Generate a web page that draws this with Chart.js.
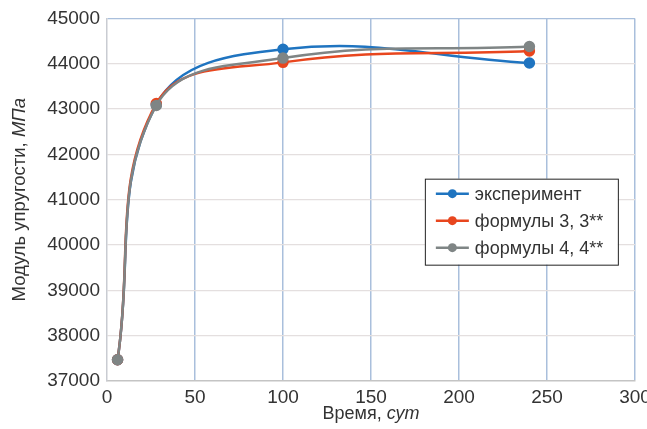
<!DOCTYPE html>
<html lang="ru">
<head>
  <meta charset="UTF-8">
  <title>Модуль упругости</title>
  <script src="https://cdn.jsdelivr.net/npm/chart.js"></script>
  <style>
    body {
      margin: 0;
      background: #fff;
    }

    .wrap {
      width: 647px;
      height: 429px;
    }
  </style>
</head>
<body>

  <div class="wrap">
    <canvas id="moduleChart" width="647" height="429"></canvas>
  </div>

  <script>
    // time, days
    const days = [6, 28, 100, 240];
    // elastic modulus, MPa
    const experiment = [37470, 43100, 44320, 44015];
    const formulas3 = [37470, 43120, 44030, 44280];
    const formulas4 = [37470, 43080, 44125, 44380];

    const seriesNames = ["эксперимент", "формулы 3, 3**", "формулы 4, 4**"];
    const seriesColors = ["#1f74c0", "#e8461e", "#7f8585"];

    const xTitle = ["Время, ", "сут"];
    const yTitle = ["Модуль упругости, ", "МПа"];

    const FONT = "'Liberation Sans', Arial, sans-serif";
    const TEXT = "#333333";
    const BLUE_GRID = "#a9bfdc";

    function toPoints(values) {
      return days.map((d, i) => ({ x: d, y: values[i] }));
    }

    function makeSet(i, values, order) {
      return {
        label: seriesNames[i],
        data: toPoints(values),
        borderColor: seriesColors[i],
        backgroundColor: seriesColors[i],
        borderWidth: 2.5,
        pointRadius: 4.5,
        pointHoverRadius: 4.5,
        tension: 0.4,
        order: order
      };
    }

    // draws a title where part of the text is italic
    function drawMixed(ctx, parts, size) {
      ctx.font = size + "px " + FONT;
      const w0 = ctx.measureText(parts[0]).width;
      ctx.font = "italic " + size + "px " + FONT;
      const w1 = ctx.measureText(parts[1]).width;
      let x = -(w0 + w1) / 2;
      ctx.textAlign = "left";
      ctx.textBaseline = "middle";
      ctx.fillStyle = TEXT;
      ctx.font = size + "px " + FONT;
      ctx.fillText(parts[0], x, 0);
      ctx.font = "italic " + size + "px " + FONT;
      ctx.fillText(parts[1], x + w0, 0);
    }

    const extras = {
      id: "extras",
      afterDraw(chart) {
        const ctx = chart.ctx;
        const area = chart.chartArea;

        // axis titles
        ctx.save();
        ctx.translate((area.left + area.right) / 2, 414);
        drawMixed(ctx, xTitle, 18);
        ctx.restore();

        ctx.save();
        ctx.translate(20, (area.top + area.bottom) / 2);
        ctx.rotate(-Math.PI / 2);
        drawMixed(ctx, yTitle, 18.5);
        ctx.restore();

        // legend box inside the plot
        const bx = area.left + (area.right - area.left) * 0.602;
        const by = area.top + (area.bottom - area.top) * 0.442;
        const bw = 193;
        const bh = 86;
        ctx.save();
        ctx.fillStyle = "#ffffff";
        ctx.fillRect(bx, by, bw, bh);
        ctx.strokeStyle = "#222222";
        ctx.lineWidth = 1;
        ctx.strokeRect(bx + 0.5, by + 0.5, bw, bh);

        ctx.font = "18px " + FONT;
        ctx.textBaseline = "middle";
        ctx.textAlign = "left";
        chart.data.datasets.forEach((ds, i) => {
          const y = by + 15 + i * 27;
          ctx.strokeStyle = ds.borderColor;
          ctx.lineWidth = 2.5;
          ctx.beginPath();
          ctx.moveTo(bx + 11, y);
          ctx.lineTo(bx + 44, y);
          ctx.stroke();
          ctx.fillStyle = ds.borderColor;
          ctx.beginPath();
          ctx.arc(bx + 27.5, y, 4.5, 0, Math.PI * 2);
          ctx.fill();
          ctx.fillStyle = TEXT;
          ctx.fillText(ds.label, bx + 50, y + 1);
        });
        ctx.restore();
      }
    };

    const ctx = document.getElementById("moduleChart").getContext("2d");

    new Chart(ctx, {
      type: "line",
      data: {
        datasets: [
          makeSet(0, experiment, 3),
          makeSet(1, formulas3, 2),
          makeSet(2, formulas4, 1)
        ]
      },
      options: {
        responsive: false,
        animation: false,
        layout: { padding: { left: 0, top: 17, right: 12, bottom: 0 } },
        plugins: {
          legend: { display: false },
          tooltip: { enabled: false }
        },
        scales: {
          x: {
            type: "linear",
            min: 0,
            max: 300,
            ticks: {
              stepSize: 50,
              padding: 5,
              color: TEXT,
              font: { family: FONT, size: 19 },
              callback: v => String(v)
            },
            grid: {
              drawTicks: false,
              lineWidth: 1.5,
              color: c => c.tick && c.tick.value === 0 ? "rgba(0,0,0,0)" : BLUE_GRID
            },
            border: { color: "#c4c4c4", width: 1.5 },
            afterFit: scale => {
              scale.height = 48;
              scale.paddingLeft = 0;
              scale.paddingRight = 0;
            }
          },
          y: {
            min: 37000,
            max: 45000,
            ticks: {
              stepSize: 1000,
              padding: 7,
              color: TEXT,
              font: { family: FONT, size: 19 },
              callback: v => String(v)
            },
            grid: {
              drawTicks: false,
              lineWidth: 1.2,
              color: c => {
                if (!c.tick) return "#e4dfdf";
                if (c.tick.value === 45000) return BLUE_GRID;
                if (c.tick.value === 37000) return "rgba(0,0,0,0)";
                return "#e4dfdf";
              }
            },
            border: { color: "#c9ccd2", width: 1.5 },
            afterFit: scale => { scale.width = 107; }
          }
        }
      },
      plugins: [extras]
    });
  </script>

</body>
</html>
